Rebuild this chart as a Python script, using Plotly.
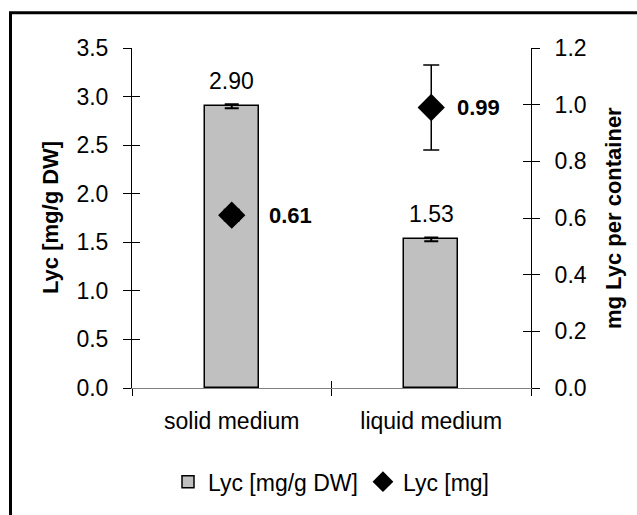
import plotly.graph_objects as go

categories = ["solid medium", "liquid medium"]
lyc_per_dw = [2.90, 1.53]
lyc_per_dw_err = [0.02, 0.02]
lyc_mg = [0.61, 0.99]
lyc_mg_err = [0.02, 0.15]
bar_labels = ["2.90", "1.53"]
mg_labels = ["0.61", "0.99"]
left_ticks = [0.0, 0.5, 1.0, 1.5, 2.0, 2.5, 3.0, 3.5]
right_ticks = [0.0, 0.2, 0.4, 0.6, 0.8, 1.0, 1.2]

FONT = "Liberation Sans, Arial, sans-serif"
FS = 23
FSB = 22
W, H = 637, 515
ML, MR, MT, MB = 132, 106, 48, 115
PW, PH = W - ML - MR, H - MT - MB

def px_x(px):
    return (px - ML) / PW

def px_y(py):
    return (H - MB - py) / PH

fig = go.Figure()
fig.add_trace(go.Bar(
    x=categories, y=lyc_per_dw, name="Lyc [mg/g DW]", width=0.27,
    marker=dict(color="#C0C0C0", line=dict(color="black", width=1.5)),
    error_y=dict(type="data", array=lyc_per_dw_err, color="black", thickness=2, width=7),
    xaxis="x", yaxis="y",
))
fig.add_trace(go.Scatter(
    x=categories, y=lyc_mg, name="Lyc [mg]", mode="markers",
    marker=dict(symbol="diamond", size=21, color="black"),
    error_y=dict(type="data", array=lyc_mg_err, color="black", thickness=1.5, width=8),
    xaxis="x", yaxis="y2",
))
# invisible helper traces carrying the inner half of the crossing tick marks
fig.add_trace(go.Scatter(x=categories, y=lyc_per_dw, mode="markers", marker=dict(opacity=0),
                         showlegend=False, hoverinfo="skip", xaxis="x2", yaxis="y3"))
fig.add_trace(go.Scatter(x=categories, y=lyc_mg, mode="markers", marker=dict(opacity=0),
                         showlegend=False, hoverinfo="skip", xaxis="x2", yaxis="y4"))

annotations = []
for c, v, t in zip(categories, lyc_per_dw, bar_labels):
    annotations.append(dict(x=c, y=v, xref="x", yref="y", text=t, showarrow=False,
                            yanchor="middle", yshift=25, font=dict(family=FONT, size=FS, color="black")))
label_shift = [35, 24]
for c, v, t, s in zip(categories, lyc_mg, mg_labels, label_shift):
    annotations.append(dict(x=c, y=v, xref="x", yref="y2", text="<b>" + t + "</b>", showarrow=False,
                            xanchor="left", yanchor="middle", xshift=s,
                            font=dict(family=FONT, size=FSB, color="black")))
annotations.append(dict(x=px_x(50), y=0.5, xref="paper", yref="paper", text="<b>Lyc [mg/g DW]</b>",
                        textangle=-90, showarrow=False, xanchor="center", yanchor="middle",
                        font=dict(family=FONT, size=FSB, color="black")))
annotations.append(dict(x=px_x(613), y=0.5, xref="paper", yref="paper", text="<b>mg Lyc per container</b>",
                        textangle=-90, showarrow=False, xanchor="center", yanchor="middle",
                        font=dict(family=FONT, size=FSB, color="black")))

common_y = dict(showgrid=False, zeroline=False, showline=True, linecolor="black", linewidth=1,
                tickcolor="black", ticklen=8, tickwidth=1)

fig.update_layout(
    width=W, height=H,
    margin=dict(l=ML, r=MR, t=MT, b=MB, pad=0),
    paper_bgcolor="white", plot_bgcolor="white",
    font=dict(family=FONT, size=FS, color="black"),
    bargap=0,
    xaxis=dict(type="category", categoryarray=categories, categoryorder="array", range=[-0.5, 1.5],
               showgrid=False, showline=True, linecolor="#808080", linewidth=1.3,
               ticks="outside", ticklen=7, tickcolor="black", tickson="boundaries",
               ticklabelstandoff=12, tickfont=dict(family=FONT, size=FS)),
    xaxis2=dict(type="category", categoryarray=categories, categoryorder="array", range=[-0.5, 1.5],
                overlaying="x", anchor="y3", showgrid=False, showline=False,
                ticks="inside", ticklen=7, tickcolor="black", tickson="boundaries",
                showticklabels=False),
    yaxis=dict(range=[0, 3.5], tickvals=left_ticks, tickformat=".1f", ticks="outside",
               ticklabelstandoff=10, tickfont=dict(family=FONT, size=FS), **common_y),
    yaxis2=dict(range=[0, 1.2], tickvals=right_ticks, tickformat=".1f", ticks="outside",
                overlaying="y", side="right", anchor="x",
                ticklabelstandoff=10, tickfont=dict(family=FONT, size=FS), **common_y),
    yaxis3=dict(range=[0, 3.5], tickvals=left_ticks, ticks="inside", overlaying="y", side="left",
                anchor="x2", showticklabels=False, **common_y),
    yaxis4=dict(range=[0, 1.2], tickvals=right_ticks, ticks="inside", overlaying="y", side="right",
                anchor="x2", showticklabels=False, **common_y),
    showlegend=True,
    legend=dict(orientation="h", x=0.5, xanchor="center", y=px_y(497), yanchor="middle",
                font=dict(family=FONT, size=FS), bgcolor="rgba(0,0,0,0)", itemwidth=30,
                tracegroupgap=0),
    annotations=annotations,
    shapes=[dict(type="rect", xref="paper", yref="paper", x0=px_x(10.5), y0=px_y(700), x1=px_x(900),
                 y1=px_y(11.5), line=dict(color="black", width=3), fillcolor="rgba(0,0,0,0)", layer="above")],
)

fig.write_html("out.html", config={"displayModeBar": False},
               post_script="document.body.style.margin='0px';document.body.style.padding='0px';")
